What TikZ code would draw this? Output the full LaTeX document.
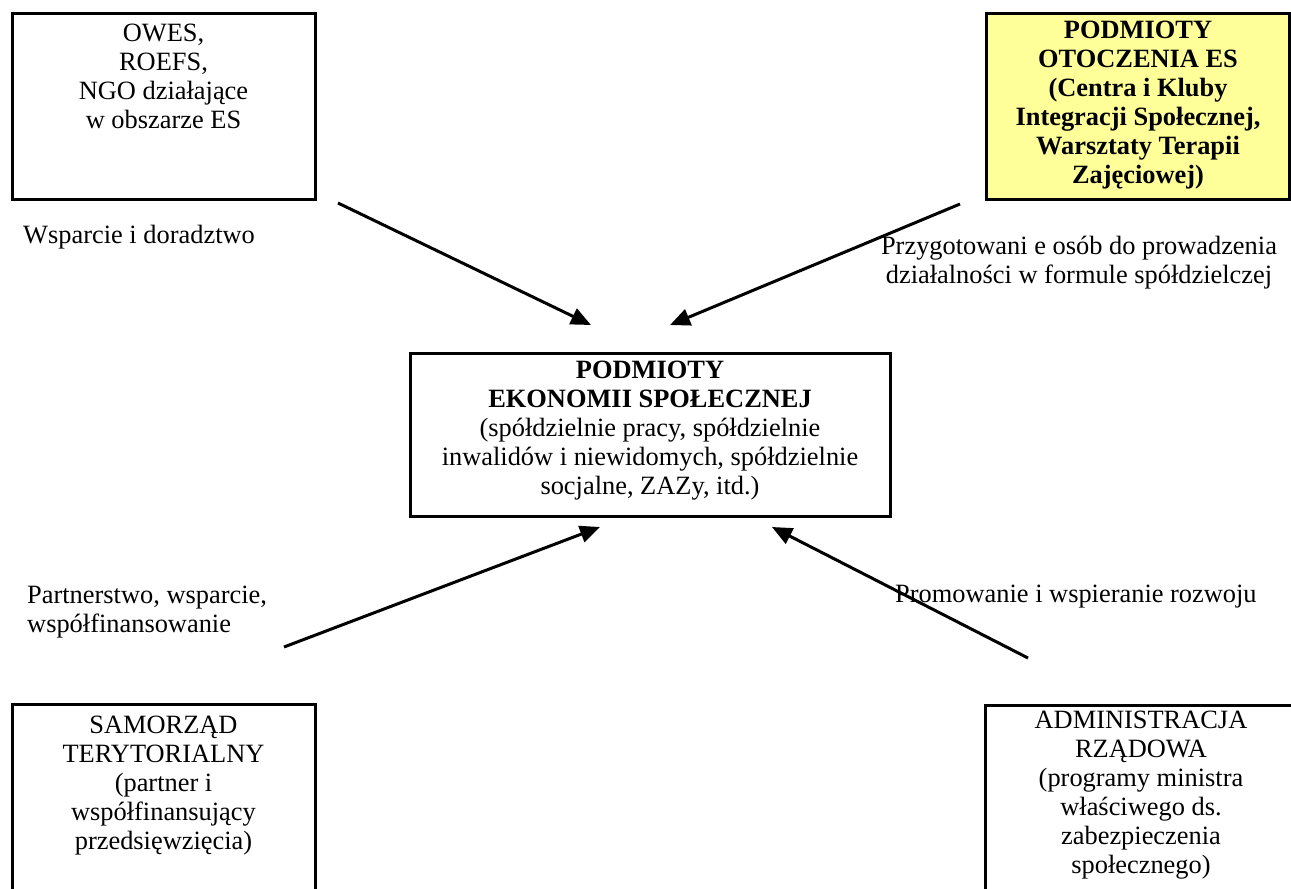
\documentclass[tikz,border=0pt]{standalone}
\usepackage{fontspec}
\setmainfont{Liberation Serif}
\usetikzlibrary{arrows.meta,calc}
\definecolor{boxyellow}{RGB}{255,255,153}
\begin{document}
\begin{tikzpicture}[x=1pt,y=-1pt,
  frame/.style={draw=black, line width=3pt, minimum width=303pt, inner sep=0pt, outer sep=0pt},
  txt/.style={font=\fontsize{26.4}{29}\selectfont, align=center, inner sep=0pt, anchor=north},
  lbl/.style={font=\fontsize{26.4}{29}\selectfont, inner sep=0pt},
  conn/.style={line width=3pt, -{Triangle[length=20pt,width=17pt]}}]
\useasboundingbox (0,0) rectangle (1291,889);

% boxes
\node[frame, minimum height=186pt] (tl) at (163.5,106) {};
\node[frame, fill=boxyellow, minimum height=186pt] (tr) at (1137.5,106) {};
\node[frame, minimum width=480pt, minimum height=163pt] (ctr) at (650,434.5) {};
\node[frame, minimum height=196pt] (bl) at (163.5,802) {};
\node[frame, minimum width=315pt, minimum height=195pt] (br) at (1142.5,802.5) {};

% box texts
\node[txt] (tltxt) at (163.5,20.7) {\strut OWES,\\ROEFS,\\NGO działające\\w obszarze ES};
\node[txt, font=\fontsize{26.4}{29}\selectfont\bfseries] (trtxt) at (1138,18.2)
  {\strut PODMIOTY\\OTOCZENIA ES\\(Centra i Kluby\\Integracji Społecznej,\\Warsztaty Terapii\\Zajęciowej)};
\node[txt] (ctrtxt) at (650,357.7)
  {\strut\textbf{PODMIOTY}\\\textbf{EKONOMII SPOŁECZNEJ}\\(spółdzielnie pracy, spółdzielnie\\inwalidów i niewidomych, spółdzielnie\\socjalne, ZAZy, itd.)};
\node[txt] (bltxt) at (163.5,712.7) {\strut SAMORZĄD\\TERYTORIALNY\\(partner i\\współfinansujący\\przedsięwzięcia)};
\node[txt] (brtxt) at (1141,707.7) {\strut ADMINISTRACJA\\RZĄDOWA\\(programy ministra\\właściwego ds.\\zabezpieczenia\\społecznego)};

% labels
\node[lbl, anchor=base west] (l1) at (23,243) {Wsparcie i doradztwo};
\node[lbl, align=center, anchor=north] (l2) at (1079,233.7) {\strut Przygotowani e osób do prowadzenia\\działalności w formule spółdzielczej};
\node[lbl, align=left, anchor=north west] (l3) at (27,582.7) {\strut Partnerstwo, wsparcie,\\współfinansowanie};
\node[lbl, anchor=base west] (l4) at (895,602) {Promowanie i wspieranie rozwoju};

% connectors
\coordinate (a1s) at (338,203); \coordinate (a1e) at (591,325);
\coordinate (a2s) at (960,204); \coordinate (a2e) at (670,325);
\coordinate (a3s) at (284,647); \coordinate (a3e) at (600,527);
\coordinate (a4s) at (1028,658); \coordinate (a4e) at (772,527);
\draw[conn] (a1s) -- (a1e);
\draw[conn] (a2s) -- (a2e);
\draw[conn] (a3s) -- (a3e);
\draw[conn] (a4s) -- (a4e);
\end{tikzpicture}
\end{document}
